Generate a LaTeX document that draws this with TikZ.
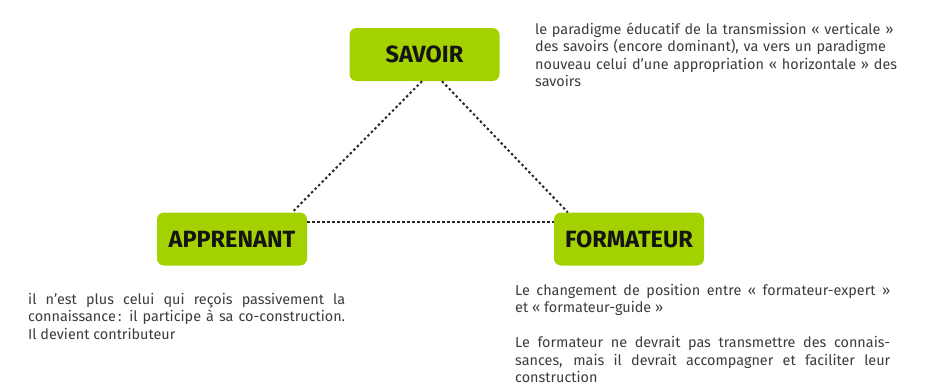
\documentclass[tikz,border=0pt]{standalone}
\usepackage{fontspec}
\setmainfont{Fira Sans}
\usetikzlibrary{calc}
\definecolor{boxgreen}{HTML}{A3D200}
\definecolor{txtgray}{HTML}{3C3C3C}
\begin{document}
\begin{tikzpicture}[x=1pt,y=-1pt,
  topic/.style={fill=boxgreen, rounded corners=7pt, minimum width=150pt, minimum height=53pt,
    inner sep=0pt, font=\fontsize{23.5}{27}\selectfont\bfseries, text=black!92},
  dotline/.style={line width=2pt, dash pattern=on 2.4pt off 2.6pt, black!85},
  para/.style={inner sep=0pt, anchor=base west, text=txtgray, font=\fontsize{14.4}{17.5}\selectfont}]
\useasboundingbox (0,0) rectangle (932,391);
\node[topic] (sav) at (424.5,54.5) {SAVOIR};
\node[topic] (appr) at (232,239) {APPRENANT};
\node[topic] (form) at (629,239) {FORMATEUR};
\draw[dotline] ($(sav.south)+(-2.5,0)$) -- ($(appr.north east)+(-15,0)$);
\draw[dotline] ($(sav.south)+(17.5,0)$) -- ($(form.north west)+(14,0)$);
\draw[dotline] ($(appr.north east)+(0,10)$) -- ($(form.north west)+(0,10)$);
\node[para, text width=380pt, align=left] (t1) at (535,34)
  {le paradigme éducatif de la transmission «~verticale~»\\
   des savoirs (encore dominant), va vers un paradigme\\
   nouveau celui d'une appropriation «~horizontale~» des\\
   savoirs};
\node[para, text width=317pt, align=justify] (t2) at (28,304)
  {il n'est plus celui qui reçois passivement la\linebreak
   connaissance\,: il participe à sa co-construction.\linebreak
   Il devient contributeur};
\node[para, text width=375pt, align=justify] (t3) at (515,295)
  {Le changement de position entre «~formateur-expert~»\linebreak
   et «~formateur-guide~»\par\vspace{17.5pt}
   Le formateur ne devrait pas transmettre des connais-\linebreak
   sances, mais il devrait accompagner et faciliter leur\linebreak
   construction};
\end{tikzpicture}
\end{document}
